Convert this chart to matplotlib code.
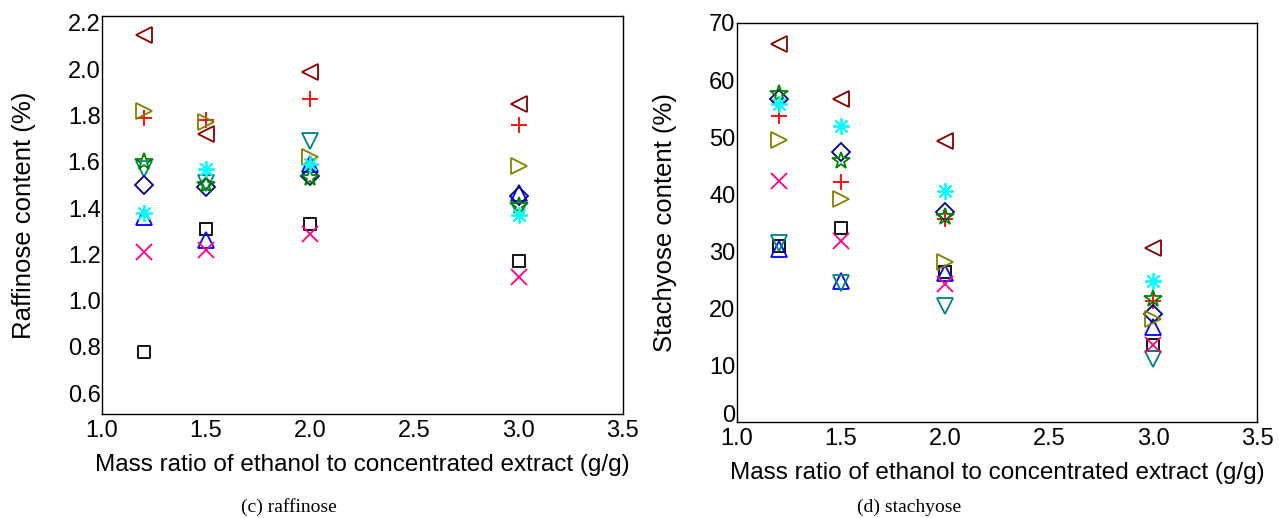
import matplotlib.pyplot as plt

# mass ratio of ethanol to concentrated extract (g/g)
ratios = [1.2, 1.5, 2.0, 3.0]

# raffinose content (%), one list per series
raf_square = [0.78, 1.31, 1.33, 1.17]
raf_plus = [1.79, 1.78, 1.87, 1.76]
raf_tri_up = [1.36, 1.26, 1.59, 1.465]
raf_tri_down = [1.57, 1.51, 1.69, 1.39]
raf_diamond = [1.50, 1.49, 1.54, 1.45]
raf_tri_left = [2.15, 1.72, 1.99, 1.85]
raf_tri_right = [1.82, 1.77, 1.62, 1.58]
raf_cross = [1.21, 1.22, 1.29, 1.10]
raf_star = [1.60, 1.50, 1.53, 1.41]
raf_aster = [1.38, 1.57, 1.59, 1.37]

# stachyose content (%)
sta_square = [30.8, 34.0, 26.3, 13.5]
sta_plus = [53.7, 42.1, 35.6, 21.3]
sta_tri_up = [30.3, 24.7, 26.2, 16.7]
sta_tri_down = [31.4, 24.3, 20.4, 11.0]
sta_diamond = [56.7, 47.4, 36.9, 19.0]
sta_tri_left = [66.3, 56.7, 49.3, 30.5]
sta_tri_right = [49.4, 39.2, 28.1, 18.1]
sta_cross = [42.3, 31.7, 24.2, 13.5]
sta_star = [57.6, 45.8, 36.0, 21.6]
sta_aster = [55.8, 52.0, 40.5, 24.8]

raffinose = [raf_square, raf_plus, raf_tri_up, raf_tri_down, raf_diamond,
             raf_tri_left, raf_tri_right, raf_cross, raf_star, raf_aster]
stachyose = [sta_square, sta_plus, sta_tri_up, sta_tri_down, sta_diamond,
             sta_tri_left, sta_tri_right, sta_cross, sta_star, sta_aster]

# marker, colour, size for each series
styles = [('s', '#000000', 8), ('+', '#FF0000', 12), ('^', '#0000FF', 11),
          ('v', '#008080', 11), ('D', '#000080', 9), ('<', '#800000', 11),
          ('>', '#808000', 11), ('x', '#FF0080', 11), ('*', '#008000', 13),
          ((8, 2, 0), '#00FFFF', 12)]

plt.rcParams['font.family'] = ['Liberation Sans', 'DejaVu Sans']

fig = plt.figure(figsize=(12.79, 5.18), dpi=100)
ax1 = fig.add_axes([0.0797, 0.2008, 0.4073, 0.7683])
ax2 = fig.add_axes([0.5762, 0.1853, 0.4066, 0.7703])


def draw(ax, series):
    for vals, (mk, col, ms) in zip(series, styles):
        filled = mk in ('+', 'x') or isinstance(mk, tuple)
        ax.plot(ratios, vals, linestyle='none', marker=mk, markersize=ms,
                markerfacecolor=col if filled else 'none',
                markeredgecolor=col, markeredgewidth=1.3)
    ax.set_xlim(1.0, 3.5)
    ax.set_xticks([1.0, 1.5, 2.0, 2.5, 3.0, 3.5])
    ax.tick_params(length=0, labelsize=17)
    ax.tick_params(axis='y', pad=1)
    ax.tick_params(axis='x', pad=4)
    for sp in ax.spines.values():
        sp.set_linewidth(1.0)
    ax.set_xlabel('Mass ratio of ethanol to concentrated extract (g/g)',
                  fontsize=17.5, labelpad=9)


draw(ax1, raffinose)
ax1.set_ylim(0.51, 2.23)
ax1.set_yticks([0.6, 0.8, 1.0, 1.2, 1.4, 1.6, 1.8, 2.0, 2.2])
ax1.set_ylabel('Raffinose content (%)', fontsize=18.5, labelpad=23)

draw(ax2, stachyose)
ax2.set_ylim(0, 70)
ax2.set_yticks(range(0, 71, 10))
ax2.set_ylabel('Stachyose content (%)', fontsize=18.5, labelpad=23)
# the "0" sits just above the corner, as in the original
ax2.get_yticklabels()[0].set_verticalalignment('baseline')

fig.text(0.226, 0.012, '(c) raffinose', family='Liberation Serif',
         fontsize=14, ha='center')
fig.text(0.711, 0.012, '(d) stachyose', family='Liberation Serif',
         fontsize=14, ha='center')

fig.savefig('out.png', dpi=100)
